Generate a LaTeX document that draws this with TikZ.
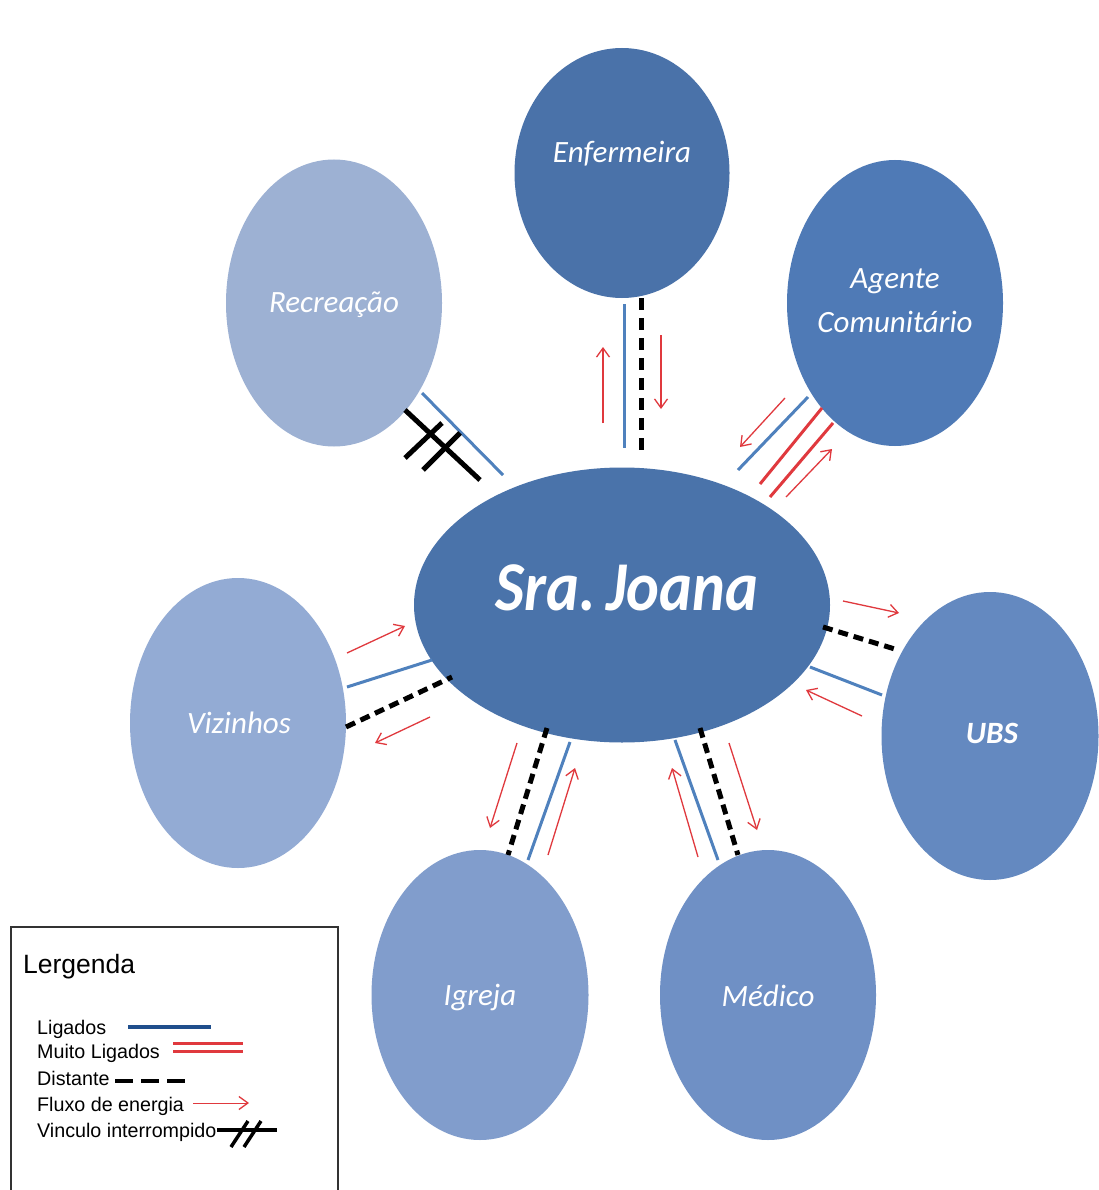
\documentclass[tikz,border=0pt]{standalone}
\usepackage{fontspec}
\setmainfont{Liberation Sans}
\newfontfamily\calib{Carlito}
\usetikzlibrary{arrows.meta,shapes.geometric}

\definecolor{cEnf}{HTML}{4A72A9}
\definecolor{cAge}{HTML}{4F7AB6}
\definecolor{cRec}{HTML}{9DB1D3}
\definecolor{cJoa}{HTML}{4A73AA}
\definecolor{cViz}{HTML}{93ABD4}
\definecolor{cUbs}{HTML}{6489C0}
\definecolor{cIgr}{HTML}{819DCC}
\definecolor{cMed}{HTML}{6F90C5}
\definecolor{lnBlue}{HTML}{4F81BD}
\definecolor{lnRed}{HTML}{E0393E}
\definecolor{lnDark}{HTML}{1F4E8C}

\begin{document}
\begin{tikzpicture}[x=1pt,y=-1pt,
  actor/.style={ellipse,draw=none,inner sep=0pt},
  lbl/.style={anchor=base,text=white,inner sep=0pt,
    font=\calib\itshape\fontsize{31}{36}\selectfont},
  ligado/.style={draw=lnBlue,line width=3pt},
  muito/.style={draw=lnRed,line width=3pt},
  distante/.style={draw=black,line width=5pt,dash pattern=on 10pt off 6pt},
  fluxo/.style={draw=lnRed,line width=1.3pt,-{Straight Barb[length=9pt,width=13pt,line width=1.3pt]}},
  rompido/.style={draw=black,line width=5pt},
  legtxt/.style={anchor=base west,inner sep=0pt,font=\fontsize{19.7}{22}\selectfont}
]
\useasboundingbox (0,0) rectangle (1099,1190);
\fill[white] (0,0) rectangle (1099,1190);

% ---- actors ----
\node[actor,fill=cEnf,minimum width=215pt,minimum height=250pt] (enf) at (622,173) {};
\node[actor,fill=cAge,minimum width=216pt,minimum height=286pt] (age) at (895,303) {};
\node[actor,fill=cRec,minimum width=216pt,minimum height=287pt] (rec) at (334,303) {};
\node[actor,fill=cJoa,minimum width=416pt,minimum height=275pt] (joa) at (622,605) {};
\node[actor,fill=cViz,minimum width=216pt,minimum height=290pt] (viz) at (238,723) {};
\node[actor,fill=cUbs,minimum width=217pt,minimum height=288pt] (ubs) at (990,736) {};
\node[actor,fill=cIgr,minimum width=217pt,minimum height=290pt] (igr) at (480,995) {};
\node[actor,fill=cMed,minimum width=216pt,minimum height=290pt] (med) at (768,995) {};

% ---- labels ----
\node[lbl] (enf-t) at (622,163) {Enfermeira};
\node[lbl] (age-t1) at (895,288) {Agente};
\node[lbl] (age-t2) at (895,332) {Comunitário};
\node[lbl] (rec-t) at (334,312) {Recreação};
\node[lbl,xscale=0.89,font=\calib\bfseries\itshape\fontsize{70}{80}\selectfont] (joa-t) at (627,610) {Sra.\,Joana};
\node[lbl] (viz-t) at (239,733) {Vizinhos};
\node[lbl,font=\calib\bfseries\itshape\fontsize{31}{36}\selectfont] (ubs-t) at (992,743) {UBS};
\node[lbl] (igr-t) at (480,1005) {Igreja};
\node[lbl] (med-t) at (768,1006) {Médico};

% ---- Enfermeira ----
\draw[ligado] (624,304) -- (624,448);
\draw[distante,dash pattern=on 12pt off 8pt] (641,298) -- (641,450);
\draw[fluxo] (603,423) -- (603,347);
\draw[fluxo] (661,335) -- (661,409);

% ---- Agente Comunitario ----
\draw[ligado] (738,470) -- (808,397);
\draw[muito] (760,484) -- (822,408);
\draw[muito] (770,497) -- (833,423);
\draw[fluxo] (785,398) -- (740,447);
\draw[fluxo] (786,497) -- (832,449);

% ---- Recreacao (vinculo interrompido) ----
\draw[ligado] (422,393) -- (503,475);
\draw[rompido] (405,410) -- (480,480);
\draw[rompido] (405,458) -- (442,423);
\draw[rompido] (423,470) -- (460,433);

% ---- UBS ----
\draw[distante] (823,627) -- (898,650);
\draw[ligado] (810,667) -- (882,695);
\draw[fluxo] (843,601) -- (899,613);
\draw[fluxo] (862,716) -- (806,690);

% ---- Vizinhos ----
\draw[fluxo] (347,653) -- (405,626);
\draw[ligado] (347,687) -- (432,660);
\draw[distante] (346,727) -- (452,677);
\draw[fluxo] (430,717) -- (375,743);

% ---- Igreja ----
\draw[distante] (547,728) -- (508,855);
\draw[ligado] (570,742) -- (528,860);
\draw[fluxo] (517,743) -- (490,828);
\draw[fluxo] (548,855) -- (575,768);

% ---- Medico ----
\draw[ligado] (675,740) -- (718,860);
\draw[distante] (700,728) -- (738,855);
\draw[fluxo] (698,857) -- (672,768);
\draw[fluxo] (729,743) -- (757,830);

% ---- legend ----
\draw[black!80,line width=1.2pt] (11,1195) -- (11,927) -- (338,927) -- (338,1195);
\node[legtxt,font=\fontsize{26.5}{30}\selectfont] (leg) at (23,973) {Lergenda};
\node[legtxt] (l1) at (37,1034) {Ligados};
\node[legtxt] (l2) at (37,1058) {Muito Ligados};
\node[legtxt] (l3) at (37,1085) {Distante};
\node[legtxt] (l4) at (37,1111) {Fluxo de energia};
\node[legtxt] (l5) at (37,1137) {Vinculo interrompido};
\draw[draw=lnDark,line width=3.5pt] (128,1027) -- (211,1027);
\draw[muito,line width=3pt] (173,1043) -- (243,1043);
\draw[muito,line width=3pt] (173,1051) -- (243,1051);
\draw[draw=black,line width=4pt,dash pattern=on 18pt off 8pt] (115,1081) -- (186,1081);
\draw[fluxo,line width=1pt] (193,1103) -- (249,1103);
\draw[draw=black,line width=3.5pt] (217,1130) -- (277,1130);
\draw[draw=black,line width=3.5pt] (231,1147) -- (248,1121);
\draw[draw=black,line width=3.5pt] (244,1147) -- (261,1121);
\end{tikzpicture}
\end{document}
